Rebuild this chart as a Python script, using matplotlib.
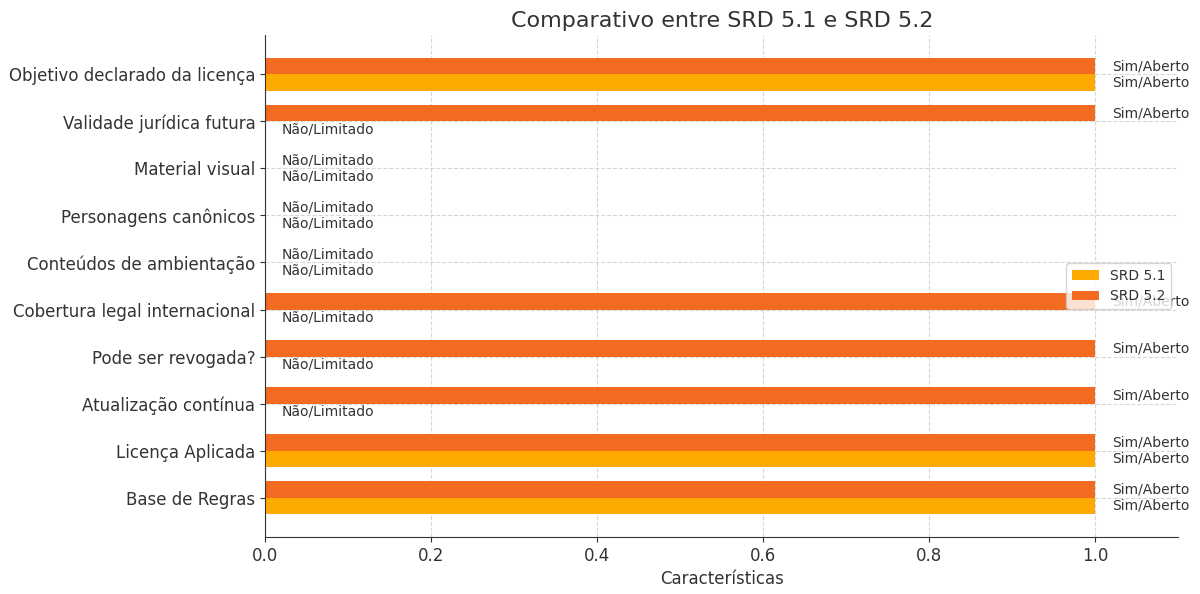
import matplotlib.pyplot as plt
import numpy as np

plt.rcParams['font.family'] = ['DejaVu Sans']

categorias = [
    "Base de Regras",
    "Licença Aplicada",
    "Atualização contínua",
    "Pode ser revogada?",
    "Cobertura legal internacional",
    "Conteúdos de ambientação",
    "Personagens canônicos",
    "Material visual",
    "Validade jurídica futura",
    "Objetivo declarado da licença",
]
srd_51 = [1, 1, 0, 0, 0, 0, 0, 0, 0, 1]
srd_52 = [1, 1, 1, 1, 1, 0, 0, 0, 1, 1]

cor_51 = "#FFAA00"
cor_52 = "#F26B21"
texto = "#333333"

fig = plt.figure(figsize=(12, 5.94), dpi=100)
ax = fig.add_axes([0.221, 0.096, 0.761, 0.845])

y = np.arange(len(categorias))
h = 0.35
ax.barh(y - h / 2, srd_51, height=h, color=cor_51, label="SRD 5.1", zorder=2)
ax.barh(y + h / 2, srd_52, height=h, color=cor_52, label="SRD 5.2", zorder=2)

for i in range(len(categorias)):
    for val, pos in ((srd_51[i], y[i] - h / 2), (srd_52[i], y[i] + h / 2)):
        rotulo = "Sim/Aberto" if val == 1 else "Não/Limitado"
        ax.text(val + 0.02, pos, rotulo, va="center", ha="left",
                fontsize=10, color=texto, zorder=1)

ax.set_yticks(y)
ax.set_yticklabels(categorias, fontsize=12, color=texto)
ax.set_xlim(0, 1.1)
ax.tick_params(axis="x", labelsize=12, colors=texto)
ax.tick_params(axis="y", colors=texto)
ax.set_xlabel("Características", fontsize=12, color=texto)
ax.set_title("Comparativo entre SRD 5.1 e SRD 5.2", fontsize=16, color=texto)
ax.grid(True, linestyle="--", alpha=0.5, zorder=0)
ax.set_axisbelow(True)
for s in ("top", "right"):
    ax.spines[s].set_visible(False)
for s in ("left", "bottom"):
    ax.spines[s].set_color(texto)

leg = ax.legend(loc="center right", fontsize=10, framealpha=0.8)
for t in leg.get_texts():
    t.set_color(texto)

fig.savefig("out.png")
